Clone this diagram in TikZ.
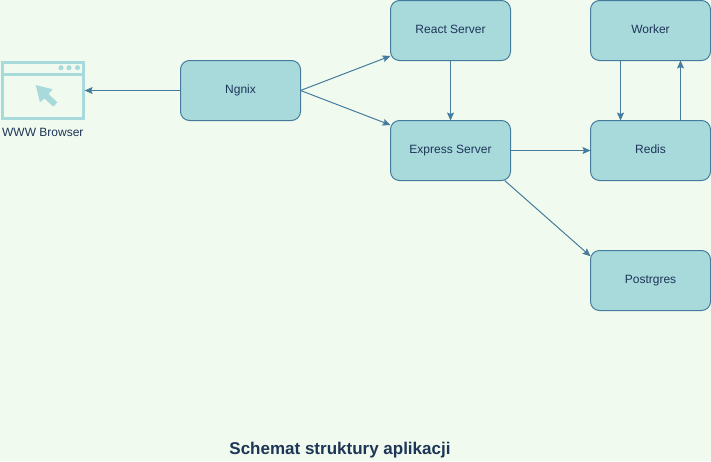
\documentclass[tikz,border=0pt]{standalone}
\usepackage{fontspec}
\setmainfont{Liberation Sans}
\usetikzlibrary{positioning, arrows.meta}
\definecolor{pagebg}{HTML}{F1FAEE}
\definecolor{boxfill}{HTML}{A8DADC}
\definecolor{boxline}{HTML}{457B9D}
\definecolor{boxtext}{HTML}{1D3557}
\tikzset{
  service/.style={draw=boxline, fill=boxfill, text=boxtext, rounded corners=9pt,
    line width=1pt, minimum width=120pt, minimum height=60pt, inner sep=0pt, outer sep=0pt,
    text height=9pt, text depth=3pt},
  link/.style={-{Stealth[length=8pt, width=7pt, inset=1.5pt]}, draw=boxline, line width=1pt},
  icon/.style={draw=boxfill, line width=3pt}
}
\begin{document}
\begin{tikzpicture}[x=1pt, y=-1pt, font=\fontsize{12}{14}\selectfont]
    \path[fill=pagebg] (0,0) rectangle (711,461);
    \useasboundingbox (0,0) rectangle (711,461);

    % browser window
    \node[icon, minimum width=80.7pt, minimum height=56pt, inner sep=0pt, outer sep=1.5pt] (browser) at (42.8,90.5) {};
    \draw[icon] (browser.west |- 0,74) -- (browser.east |- 0,74);
    \fill[boxfill] (61,67.7) circle (2.5pt) (69,67.7) circle (2.5pt) (77.5,67.7) circle (2.5pt);
    \fill[boxfill] (35.7,85) -- (52.7,89.3) -- (48.5,94) -- (57.3,102.3) -- (53.3,106.7) -- (44.5,98.5) -- (40,102.3) -- cycle;
    \node[text=boxtext, below = 7pt of browser, inner sep=1pt] (browser-label) {WWW Browser};

    \node[service] (ngnix) at (240.5,90.5) {Ngnix};
    \node[service] (react) at (450.5,30.5) {React Server};
    \node[service, below = 60pt of react] (express) {Express Server};
    \node[service] (worker) at (650.5,30.5) {Worker};
    \node[service, below = 60pt of worker] (redis) {Redis};
    \node[service, below = 70pt of redis] (postgres) {Postrgres};

    \draw[link] (ngnix) -- (browser);
    \draw[link] (ngnix.east) -- (react.-157);
    \draw[link] (ngnix.east) -- (express.157);
    \draw[link] (react) -- (express);
    \draw[link] (express) -- (redis);
    \draw[link] (express.-29) -- (postgres.158);
    \draw[link] (worker.-135) -- (redis.135);
    \draw[link] (redis.45) -- (worker.-45);

    \node[text=boxtext, font=\fontsize{17}{20}\selectfont\bfseries] (title) at (340,450) {Schemat struktury aplikacji};
  \end{tikzpicture}
\end{document}
